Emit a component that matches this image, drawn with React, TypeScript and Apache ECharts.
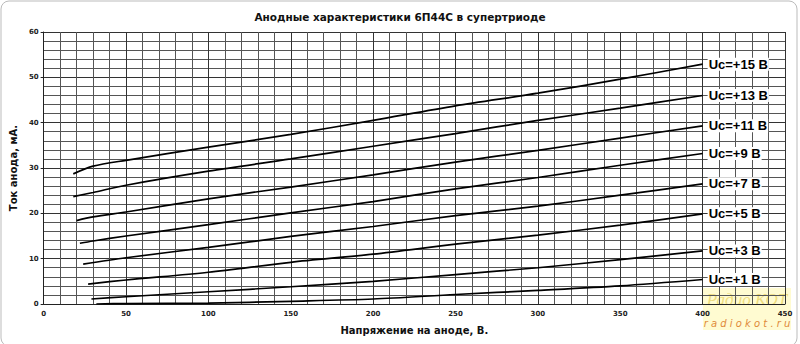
import React, { useEffect, useRef } from "react";
import * as echarts from "echarts";

const seriesNames = ["Uc=+15 В", "Uc=+13 В", "Uc=+11 В", "Uc=+9 В", "Uc=+7 В", "Uc=+5 В", "Uc=+3 В", "Uc=+1 В"];

const uc15: [number, number][] = [[18, 28.7], [30, 30.4], [50, 31.7], [100, 34.6], [150, 37.4], [200, 40.5], [250, 43.7], [300, 46.5], [350, 49.6], [400, 52.9]];
const uc13: [number, number][] = [[18, 23.7], [30, 24.6], [50, 26.2], [100, 29.3], [150, 32.0], [200, 34.8], [250, 37.6], [300, 40.5], [350, 43.2], [400, 46.0]];
const uc11: [number, number][] = [[20, 18.4], [30, 19.2], [50, 20.3], [100, 23.2], [150, 25.8], [200, 28.5], [250, 31.3], [300, 33.9], [350, 36.6], [400, 39.3]];
const uc9: [number, number][] = [[22, 13.4], [30, 13.9], [50, 15.0], [100, 17.5], [150, 20.1], [200, 22.6], [250, 25.4], [300, 27.9], [350, 30.6], [400, 33.2]];
const uc7: [number, number][] = [[24, 8.8], [50, 10.2], [100, 12.5], [150, 14.9], [200, 17.1], [250, 19.5], [300, 21.6], [350, 24.0], [400, 26.5]];
const uc5: [number, number][] = [[27, 4.4], [50, 5.3], [100, 7.0], [150, 9.2], [200, 11.0], [250, 13.2], [300, 15.2], [350, 17.4], [400, 19.9]];
const uc3: [number, number][] = [[29, 1.1], [50, 1.6], [100, 2.7], [150, 3.8], [200, 5.0], [250, 6.5], [300, 8.0], [350, 9.8], [400, 11.7]];
const uc1: [number, number][] = [[32, 0.0], [50, 0.1], [100, 0.2], [150, 0.6], [200, 1.1], [250, 2.1], [300, 3.0], [350, 4.0], [400, 5.4]];

const allData = [uc15, uc13, uc11, uc9, uc7, uc5, uc3, uc1];

const title = "Анодные характеристики 6П44С в супертриоде";
const xName = "Напряжение на аноде, В.";
const yName = "Ток анода, мА.";

export default function App() {
  const ref = useRef<HTMLDivElement>(null);
  useEffect(() => {
    if (!ref.current) return;
    const chart = echarts.init(ref.current, null, { renderer: "svg" });
    const font = "'DejaVu Sans', Verdana, sans-serif";
    chart.setOption({
      animation: false,
      backgroundColor: "#ffffff",
      title: {
        text: title,
        left: 395,
        top: 6,
        textAlign: "center",
        textStyle: { fontFamily: font, fontSize: 10.5, fontWeight: "bold", color: "#111" },
      },
      grid: { left: 40.5, right: 15, top: 32, bottom: 40, containLabel: false },
      xAxis: {
        type: "value",
        min: 0,
        max: 450,
        interval: 50,
        name: xName,
        nameLocation: "middle",
        nameGap: 21,
        nameTextStyle: { fontFamily: font, fontSize: 10, fontWeight: "bold", color: "#111" },
        axisLine: { show: true, lineStyle: { color: "#222", width: 1 } },
        axisTick: { show: false },
        axisLabel: { fontFamily: font, fontSize: 7, fontWeight: "bold", color: "#222", margin: 6 },
        splitLine: { show: true, lineStyle: { color: "#333", width: 1 } },
        minorTick: { show: false, splitNumber: 5 },
        minorSplitLine: { show: true, lineStyle: { color: "#555", width: 1 } },
      },
      yAxis: {
        type: "value",
        min: 0,
        max: 60,
        interval: 10,
        name: yName,
        nameLocation: "middle",
        nameGap: 16,
        nameRotate: 90,
        nameTextStyle: { fontFamily: font, fontSize: 10, fontWeight: "bold", color: "#111" },
        axisLine: { show: true, lineStyle: { color: "#222", width: 1 } },
        axisTick: { show: true, length: 3, lineStyle: { color: "#222" } },
        axisLabel: { fontFamily: font, fontSize: 7, fontWeight: "bold", color: "#222", margin: 5 },
        splitLine: { show: true, lineStyle: { color: "#333", width: 1 } },
        minorTick: { show: false, splitNumber: 5 },
        minorSplitLine: { show: true, lineStyle: { color: "#555", width: 1 } },
      },
      series: allData.map((d, i) => ({
        type: "line",
        name: seriesNames[i],
        data: d,
        smooth: 0.3,
        symbol: "none",
        lineStyle: { color: "#000", width: 1.7 },
        endLabel: {
          show: true,
          formatter: seriesNames[i],
          distance: 5,
          fontFamily: "'Liberation Sans', Arial, sans-serif",
          fontSize: 13,
          fontWeight: "bold",
          color: "#000",
          backgroundColor: "#fff",
          padding: [0, 1, 0, 1],
        },
      })),
      graphic: [
        {
          type: "rect",
          shape: { x: 1, y: 1, width: 796, height: 345, r: 8 },
          style: { fill: "none", stroke: "#bbb", lineWidth: 1 },
          silent: true,
        },
        {
          type: "rect",
          shape: { x: 703, y: 288, width: 88, height: 42 },
          style: { fill: "rgba(255,250,190,0.7)" },
          silent: true,
        },
        {
          type: "text",
          x: 747,
          y: 291,
          style: {
            text: "Радио КОТ",
            fill: "rgba(235,215,110,0.85)",
            font: "italic 17px 'Liberation Serif', serif",
            align: "center",
            verticalAlign: "top",
          },
          silent: true,
        },
        {
          type: "text",
          x: 747,
          y: 318,
          style: {
            text: "r a d i o k o t . r u",
            fill: "#e08a3a",
            font: "italic 10px 'DejaVu Sans', sans-serif",
            align: "center",
            verticalAlign: "top",
          },
          silent: true,
        },
      ],
    });
    return () => chart.dispose();
  }, []);
  return <div ref={ref} style={{ width: 800, height: 344, position: "absolute", left: 0, top: 0 }} />;
}
